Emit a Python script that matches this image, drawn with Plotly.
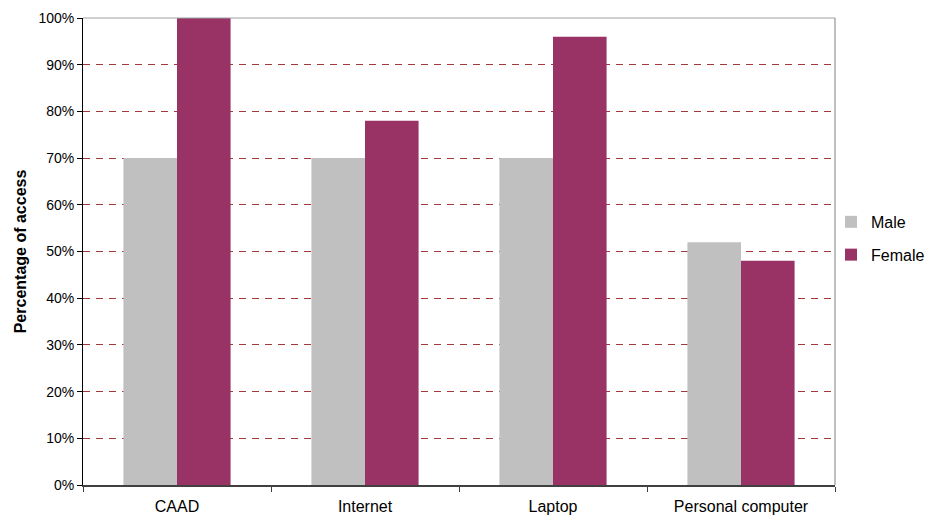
import plotly.graph_objects as go

categories = ["CAAD", "Internet", "Laptop", "Personal computer"]
male = [0.70, 0.70, 0.70, 0.52]
female = [1.00, 0.78, 0.96, 0.48]
y_ticks = [i / 10 for i in range(11)]
y_labels = [f"{i * 10}%" for i in range(11)]

font_family = "Liberation Sans, Arial, sans-serif"

fig = go.Figure()
fig.add_trace(go.Bar(name="Male", x=categories, y=male, marker_color="#C0C0C0",
                     marker_line_width=0, legendgroup="m"))
fig.add_trace(go.Bar(name="Female", x=categories, y=female, marker_color="#993366",
                     marker_line_width=0, legendgroup="f"))

fig.update_layout(
    width=925, height=518,
    margin=dict(l=83, r=90, t=18, b=33, autoexpand=False),
    paper_bgcolor="white", plot_bgcolor="white",
    barmode="group", bargap=0.43, bargroupgap=0,
    font=dict(family=font_family, size=14, color="black"),
    showlegend=True,
    legend=dict(x=0.9947, xanchor="left", y=0.528, yanchor="middle",
                font=dict(size=16), tracegroupgap=9,
                bgcolor="rgba(0,0,0,0)"),
    xaxis=dict(
        showgrid=False, tickson="boundaries", ticks="outside", ticklen=5,
        tickcolor="#404040", showline=True, linecolor="#404040", linewidth=1.5,
        tickfont=dict(size=16), zeroline=False, ticklabelstandoff=6,
    ),
    yaxis=dict(
        range=[0, 1], tickvals=y_ticks, ticktext=y_labels,
        showgrid=True, gridcolor="#A33A3A", griddash="7px,6px", gridwidth=1,
        ticks="outside", ticklen=5, tickcolor="black", tickfont=dict(size=14),
        showline=True, linecolor="black", linewidth=1, zeroline=False,
        title=dict(text="<b>Percentage of access</b>", font=dict(size=16), standoff=7),
    ),
)

# Frame lines on the top and right side of the plotting area
fig.add_shape(type="line", xref="x domain", yref="y domain", x0=0, x1=1, y0=1, y1=1,
              line=dict(color="#A0A0A0", width=1), layer="above")
fig.add_shape(type="line", xref="x domain", yref="y domain", x0=1, x1=1, y0=0, y1=1,
              line=dict(color="#808080", width=1), layer="above")

fig.write_html("out.html")
